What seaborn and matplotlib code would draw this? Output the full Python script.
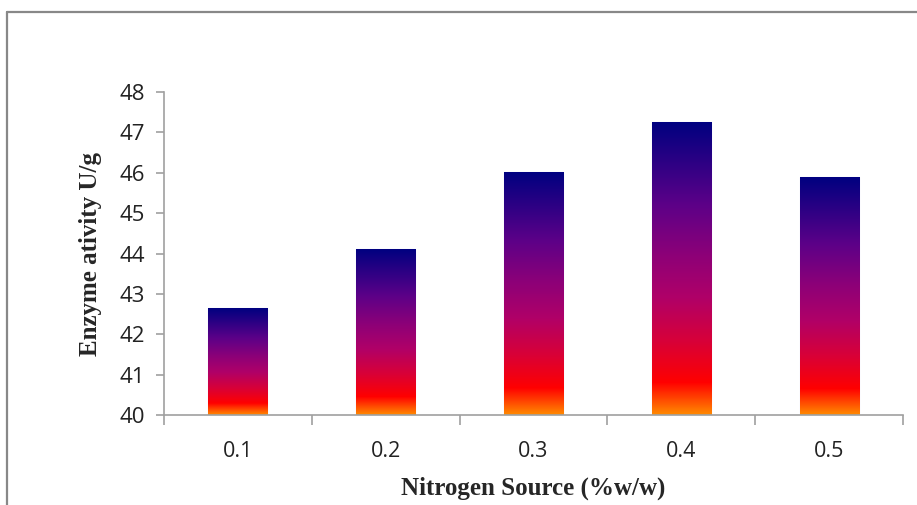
import numpy as np
import pandas as pd
import seaborn as sns
import matplotlib.pyplot as plt
from matplotlib.colors import LinearSegmentedColormap
from matplotlib.lines import Line2D

sns.set_style('white')
plt.rcParams['font.family'] = ['Open Sans', 'DejaVu Sans']

nitrogen = ['0.1', '0.2', '0.3', '0.4', '0.5']
activity = [42.65, 44.11, 46.01, 47.25, 45.89]

df = pd.DataFrame({'Nitrogen': nitrogen, 'Activity': activity})

fig = plt.figure(figsize=(9.17, 5.05), dpi=100)
ax = fig.add_axes([0.1788, 0.1782, 0.8059, 0.6396])

sns.barplot(data=df, x='Nitrogen', y='Activity', width=0.4, ax=ax,
            color='white', edgecolor='#c8c8f0', linewidth=0.8)

# vertical gradient orange -> red -> magenta -> purple -> navy
cmap = LinearSegmentedColormap.from_list('grad', [
    (0.0, '#ff8a00'), (0.11, '#ff0000'), (0.25, '#d80038'),
    (0.4, '#b00068'), (0.55, '#8c0078'), (0.72, '#5c0088'),
    (1.0, '#000080')])
grad = np.linspace(0, 1, 256).reshape(-1, 1)
for p in ax.patches:
    x0, y0 = p.get_x(), 40
    w, h = p.get_width(), p.get_y() + p.get_height()
    im = ax.imshow(grad, cmap=cmap, origin='lower', aspect='auto',
                   extent=[x0, x0 + w, y0, h], zorder=p.get_zorder() + 0.1)
    im.set_clip_path(p)

ax.set_xlim(-0.5, 4.5)
ax.set_ylim(40, 48)
ax.set_yticks(range(40, 49))

for s in ['top', 'right']:
    ax.spines[s].set_visible(False)
for s in ['left', 'bottom']:
    ax.spines[s].set_color('#a0a0a0')
    ax.spines[s].set_linewidth(1.2)

ax.tick_params(axis='y', which='major', left=True, length=6, width=1.2,
               color='#a0a0a0', labelsize=16, labelcolor='#222222', pad=8)
ax.tick_params(axis='x', which='major', length=0, labelsize=15.5,
               labelcolor='#222222', pad=19)
ax.set_xticks(np.arange(-0.5, 5, 1), minor=True)
ax.tick_params(axis='x', which='minor', bottom=True, length=7, width=1.2,
               color='#a0a0a0')

ax.set_xlabel('Nitrogen Source (%w/w)', family='Liberation Serif',
              fontweight='bold', fontsize=18, labelpad=10)
ax.set_ylabel('Enzyme ativity U/g', family='Liberation Serif',
              fontweight='bold', fontsize=18, labelpad=12)

# outer frame
fig.add_artist(Line2D([7 / 917, 7 / 917], [0, 1 - 12 / 505],
                      transform=fig.transFigure, color='#888888', lw=1.6))
fig.add_artist(Line2D([7 / 917, 1], [1 - 12 / 505, 1 - 12 / 505],
                      transform=fig.transFigure, color='#888888', lw=1.6))

fig.savefig('out.png', dpi=100)
